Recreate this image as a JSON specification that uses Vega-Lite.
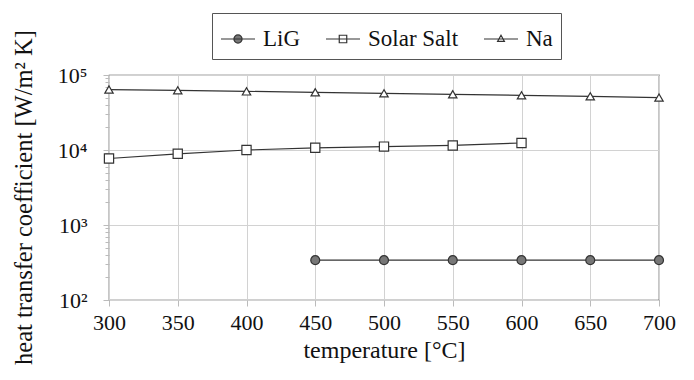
{
  "$schema": "https://vega.github.io/schema/vega-lite/v6.json",
  "width": 550,
  "height": 225,
  "autosize": {"type": "none"},
  "padding": {"left": 109, "top": 75, "right": 35, "bottom": 80},
  "background": "white",
  "config": {
    "view": {"stroke": "#444", "strokeWidth": 1.2},
    "font": "Liberation Serif",
    "axis": {
      "labelFont": "Liberation Serif",
      "titleFont": "Liberation Serif",
      "labelColor": "#111",
      "titleColor": "#111",
      "titleFontWeight": "normal",
      "labelFontSize": 22,
      "titleFontSize": 24,
      "domain": false,
      "gridColor": "#d2d2d2",
      "gridWidth": 1,
      "tickColor": "#bbb"
    },
    "legend": {
      "title": null,
      "orient": "none",
      "legendX": 103,
      "legendY": -62,
      "direction": "horizontal",
      "padding": 8,
      "columnPadding": 22,
      "labelOffset": 7,
      "labelFont": "Liberation Serif",
      "labelFontSize": 23,
      "symbolSize": 1156,
      "symbolOpacity": 1
    }
  },
  "data": {
    "values": [
      {"series": "LiG", "temperature": 450, "htc": 340},
      {"series": "LiG", "temperature": 500, "htc": 340},
      {"series": "LiG", "temperature": 550, "htc": 340},
      {"series": "LiG", "temperature": 600, "htc": 340},
      {"series": "LiG", "temperature": 650, "htc": 340},
      {"series": "LiG", "temperature": 700, "htc": 340},
      {"series": "Solar Salt", "temperature": 300, "htc": 7700},
      {"series": "Solar Salt", "temperature": 350, "htc": 8900},
      {"series": "Solar Salt", "temperature": 400, "htc": 10000},
      {"series": "Solar Salt", "temperature": 450, "htc": 10700},
      {"series": "Solar Salt", "temperature": 500, "htc": 11100},
      {"series": "Solar Salt", "temperature": 550, "htc": 11500},
      {"series": "Solar Salt", "temperature": 600, "htc": 12400},
      {"series": "Na", "temperature": 300, "htc": 64000},
      {"series": "Na", "temperature": 350, "htc": 62500},
      {"series": "Na", "temperature": 400, "htc": 60500},
      {"series": "Na", "temperature": 450, "htc": 58800},
      {"series": "Na", "temperature": 500, "htc": 57000},
      {"series": "Na", "temperature": 550, "htc": 55300},
      {"series": "Na", "temperature": 600, "htc": 53600},
      {"series": "Na", "temperature": 650, "htc": 52000},
      {"series": "Na", "temperature": 700, "htc": 50000}
    ]
  },
  "encoding": {
    "x": {
      "field": "temperature",
      "type": "quantitative",
      "scale": {"domain": [300, 700], "zero": false, "nice": false},
      "axis": {
        "title": "temperature [°C]",
        "values": [300, 350, 400, 450, 500, 550, 600, 650, 700],
        "tickSize": 6,
        "labelPadding": 6,
        "titlePadding": 5,
        "labelFlush": false
      }
    },
    "y": {
      "field": "htc",
      "type": "quantitative",
      "scale": {"type": "log", "domain": [100, 100000], "nice": false},
      "axis": {
        "title": "heat transfer coefficient [W/m² K]",
        "titleY": 122,
        "titleFontSize": 24.5,
        "values": [100, 200, 300, 400, 500, 600, 700, 800, 900, 1000, 2000, 3000, 4000, 5000, 6000, 7000, 8000, 9000, 10000, 20000, 30000, 40000, 50000, 60000, 70000, 80000, 90000, 100000],
        "labelExpr": "abs(log(datum.value)/LN10 - round(log(datum.value)/LN10)) < 1e-6 ? '10' + ['⁰','¹','²','³','⁴','⁵'][round(log(datum.value)/LN10)] : ''",
        "labelOverlap": false,
        "labelFlush": false,
        "labelPadding": 16,
        "titlePadding": 21,
        "tickSize": {"condition": {"test": "abs(log(datum.value)/LN10 - round(log(datum.value)/LN10)) < 1e-6", "value": 6}, "value": 4},
        "gridOpacity": {"condition": {"test": "abs(log(datum.value)/LN10 - round(log(datum.value)/LN10)) < 1e-6", "value": 1}, "value": 0}
      }
    }
  },
  "layer": [
    {
      "mark": {"type": "line", "color": "#333", "strokeWidth": 1.2},
      "encoding": {"detail": {"field": "series", "type": "nominal"}}
    },
    {
      "transform": [{"filter": "datum.series === 'LiG'"}],
      "mark": {"type": "point", "shape": "circle", "filled": true, "fill": "#777777", "stroke": "#333", "strokeWidth": 1.2, "size": 80, "opacity": 1}
    },
    {
      "transform": [{"filter": "datum.series === 'Solar Salt'"}],
      "mark": {"type": "point", "shape": "square", "filled": true, "fill": "#ffffff", "stroke": "#333", "strokeWidth": 1.2, "size": 85, "opacity": 1}
    },
    {
      "transform": [{"filter": "datum.series === 'Na'"}],
      "mark": {"type": "point", "shape": "triangle-up", "filled": true, "fill": "#ffffff", "stroke": "#333", "strokeWidth": 1.2, "size": 70, "opacity": 1}
    },
    {
      "mark": {"type": "point", "filled": true, "color": "#ffffff", "opacity": 0, "stroke": "#333", "strokeWidth": 1.2},
      "encoding": {
        "shape": {
          "field": "series",
          "type": "nominal",
          "scale": {
            "domain": ["LiG", "Solar Salt", "Na"],
            "range": [
              "M-1,0H1M0.24,0A0.24,0.24,0,1,1,-0.24,0A0.24,0.24,0,1,1,0.24,0Z",
              "M-1,0H1M-0.22,-0.22H0.22V0.22H-0.22Z",
              "M-1,0H1M0,-0.22L0.2,0.14H-0.2Z"
            ]
          },
          "legend": {
            "strokeColor": "#555",
            "fillColor": "white",
            "labelColor": "#111",
            "symbolFillColor": "#ffffff",
            "symbolStrokeColor": "#333",
            "symbolStrokeWidth": 1.2
          }
        },
        "fill": {
          "field": "series",
          "type": "nominal",
          "scale": {"domain": ["LiG", "Solar Salt", "Na"], "range": ["#777777", "transparent", "transparent"]},
          "legend": {
            "strokeColor": "transparent",
            "fillColor": "transparent",
            "labelColor": "#111",
            "symbolType": "M-1,0M0.2,0A0.2,0.2,0,1,1,-0.2,0A0.2,0.2,0,1,1,0.2,0ZM1,0",
            "symbolStrokeColor": "transparent",
            "symbolStrokeWidth": 0
          }
        }
      }
    }
  ]
}
